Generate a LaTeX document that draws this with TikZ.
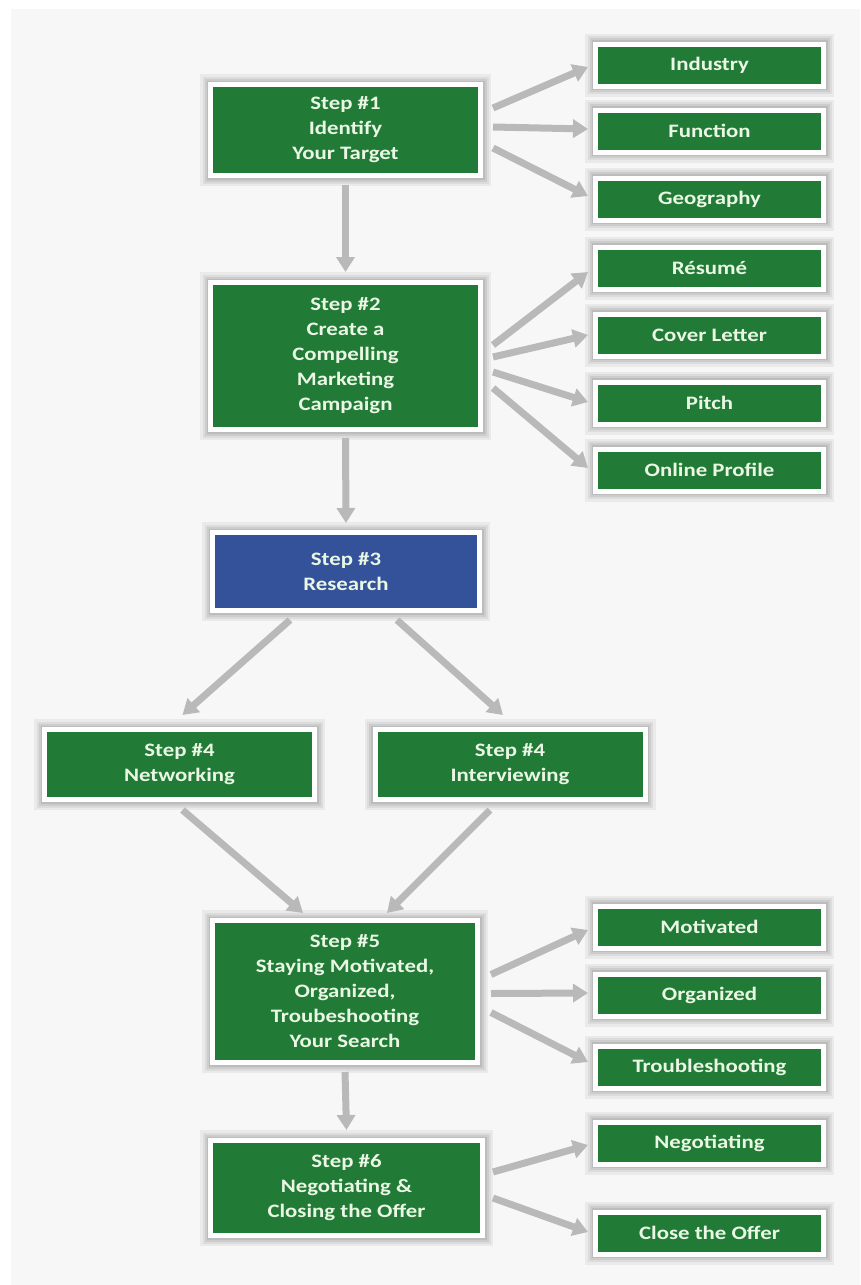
\documentclass[tikz,border=0pt]{standalone}
\usepackage{fontspec}
\setmainfont{Carlito}[FakeStretch=1.2]
\usetikzlibrary{calc,arrows.meta}
\definecolor{boxgreen}{HTML}{217B36}
\definecolor{boxblue}{HTML}{33529A}
\definecolor{arrgray}{HTML}{B9B9B9}
\definecolor{bgcol}{HTML}{F7F7F7}
\definecolor{txtcol}{HTML}{EAF7E4}
\begin{document}
\begin{tikzpicture}[x=1pt,y=-1pt,
  box/.style={draw=white, line width=5pt, fill=boxgreen, text=txtcol,
    font=\fontsize{19}{25}\selectfont\bfseries, align=center, inner sep=0pt,
    preaction={draw=black, draw opacity=.05, line width=21pt},
    preaction={draw=black, draw opacity=.06, line width=16pt},
    preaction={draw=black, draw opacity=.07, line width=12pt},
    preaction={draw=black, draw opacity=.08, line width=8pt}},
  bigbox/.style={box, minimum width=270pt},
  rbox/.style={box, minimum width=228pt, minimum height=42pt},
  arr/.style={draw=arrgray, line width=7pt, -{Triangle[length=15pt, width=18pt]}}
]
\useasboundingbox (0,0) rectangle (860,1285);
\fill[white] (0,0) rectangle (860,1285);
\fill[bgcol] (11,9) rectangle (860,1285);

% main steps
\node[bigbox, minimum height=91pt] (s1) at (345.5,130) {Step \#1\\Identify\\Your Target};
\node[bigbox, minimum height=147pt] (s2) at (345.5,356) {Step \#2\\Create a\\Compelling\\Marketing\\Campaign};
\node[box, fill=boxblue, minimum width=267pt, minimum height=78pt] (s3) at (346,571.5) {Step \#3\\Research};
\node[bigbox, minimum height=70pt] (s4a) at (179.5,764.5) {Step \#4\\Networking};
\node[bigbox, minimum height=70pt] (s4b) at (510,764.5) {Step \#4\\Interviewing};
\node[box, minimum width=265pt, minimum height=142pt] (s5) at (345,991.5) {Step \#5\\Staying Motivated,\\Organized,\\Troubeshooting\\Your Search};
\node[box, minimum width=272pt, minimum height=95pt] (s6) at (346.5,1188) {Step \#6\\Negotiating \&\\Closing the Offer};

% side boxes
\node[rbox] (ind) at (709.5,65) {Industry};
\node[rbox] (fun) at (709.5,131) {Function};
\node[rbox] (geo) at (709.5,199) {Geography};
\node[rbox] (res) at (709.5,268) {Résumé};
\node[rbox] (cov) at (709.5,335) {Cover Letter};
\node[rbox] (pit) at (709.5,403) {Pitch};
\node[rbox] (onl) at (709.5,470) {Online Profile};
\node[rbox] (mot) at (709.5,927) {Motivated};
\node[rbox] (org) at (709.5,995) {Organized};
\node[rbox] (tro) at (709.5,1067) {Troubleshooting};
\node[rbox] (neg) at (709.5,1143) {Negotiating};
\node[rbox] (clo) at (709.5,1233) {Close the Offer};

% arrows from step 1
\draw[arr] ($(s1.east)+(10,-22)$) -- ($(ind.west)+(-5,2)$);
\draw[arr] ($(s1.east)+(10,-3)$) -- ($(fun.west)+(-5,-2)$);
\draw[arr] ($(s1.east)+(10,18)$) -- ($(geo.west)+(-5,-3)$);
\draw[arr] ($(s1.south)+(0,7)$) -- ($(s2.north)+(0,-8)$);
% arrows from step 2
\draw[arr] ($(s2.east)+(10,-11)$) -- ($(res.west)+(-5,4)$);
\draw[arr] ($(s2.east)+(10,1)$) -- ($(cov.west)+(-5,0)$);
\draw[arr] ($(s2.east)+(10,16)$) -- ($(pit.west)+(-5,-1)$);
\draw[arr] ($(s2.east)+(10,32)$) -- ($(onl.west)+(-5,-2)$);
\draw[arr] ($(s2.south)+(0,6)$) -- ($(s3.north)+(0,-7)$);
% step 3 to step 4
\draw[arr] ($(s3.south)+(-56,7)$) -- ($(s4a.north)+(3,-12)$);
\draw[arr] ($(s3.south)+(51,7)$) -- ($(s4b.north)+(-7,-12)$);
% step 4 to step 5
\draw[arr] ($(s4a.south)+(3,8)$) -- ($(s5.north)+(-42,-5)$);
\draw[arr] ($(s4b.south)+(-20,8)$) -- ($(s5.north)+(42,-5)$);
% step 5 arrows
\draw[arr] ($(s5.east)+(11,-17)$) -- ($(mot.west)+(-5,3)$);
\draw[arr] ($(s5.east)+(11,2)$) -- ($(org.west)+(-5,-2)$);
\draw[arr] ($(s5.east)+(11,21)$) -- ($(tro.west)+(-5,-5)$);
\draw[arr] ($(s5.south)+(0,7)$) -- ($(s6.north)+(0,-8)$);
% step 6 arrows
\draw[arr] ($(s6.east)+(8,-16)$) -- ($(neg.west)+(-5,2)$);
\draw[arr] ($(s6.east)+(8,10)$) -- ($(clo.west)+(-5,-1)$);
\end{tikzpicture}
\end{document}
